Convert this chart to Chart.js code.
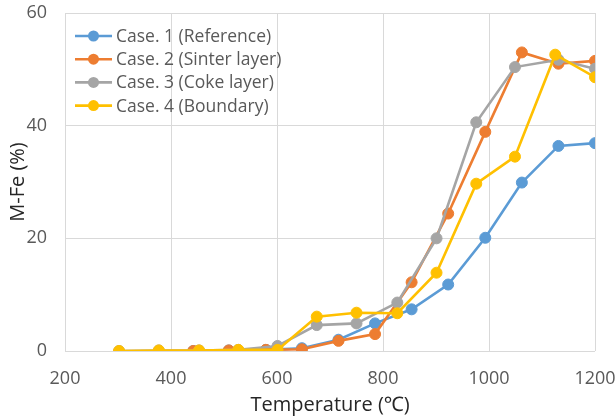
<!DOCTYPE html>
<html>
<head>
<meta charset="utf-8">
<script src="https://cdn.jsdelivr.net/npm/chart.js@4"></script>
<style>
  html, body { margin: 0; padding: 0; background: #ffffff; }
  #wrap { width: 615px; height: 417px; }
</style>
</head>
<body>
<div id="wrap"><canvas id="c" width="615" height="417"></canvas></div>
<script>
// ---- data ----
const seriesNames = ["Case. 1 (Reference)", "Case. 2 (Sinter layer)", "Case. 3 (Coke layer)", "Case. 4 (Boundary)"];
const case1Temp = [442, 509, 579, 647, 716, 785, 854, 923, 993, 1062, 1131, 1200];
const case1MFe  = [0.0, 0.1, 0.2, 0.5, 2.0, 4.9, 7.4, 11.8, 20.1, 29.9, 36.4, 36.9];
const case2Temp = [442, 509, 579, 647, 716, 785, 854, 923, 993, 1062, 1131, 1200];
const case2MFe  = [0.0, 0.1, 0.2, 0.3, 1.8, 3.0, 12.2, 24.4, 38.9, 53.0, 51.0, 51.5];
const case3Temp = [302, 377, 453, 527, 601, 675, 750, 827, 901, 976, 1049, 1131, 1200];
const case3MFe  = [0.0, 0.1, 0.1, 0.2, 0.9, 4.6, 4.9, 8.6, 20.0, 40.6, 50.4, 51.7, 50.1];
const case4Temp = [302, 377, 453, 527, 601, 675, 750, 827, 901, 976, 1049, 1125, 1200];
const case4MFe  = [0.0, 0.1, 0.1, 0.2, 0.2, 6.1, 6.8, 6.7, 13.9, 29.7, 34.5, 52.6, 48.6];
const xTicks = [200, 400, 600, 800, 1000, 1200];
const yTicks = [0, 20, 40, 60];
const xTitle = "Temperature (℃)";
const yTitle = "M-Fe (%)";

const colors = ["#5B9BD5", "#ED7D31", "#A5A5A5", "#FFC000"];
const temps = [case1Temp, case2Temp, case3Temp, case4Temp];
const vals = [case1MFe, case2MFe, case3MFe, case4MFe];

const FONT = '"Open Sans", "Noto Sans", sans-serif';

const datasets = seriesNames.map((name, i) => ({
  label: name,
  data: temps[i].map((t, k) => ({ x: t, y: vals[i][k] })),
  borderColor: colors[i],
  backgroundColor: colors[i],
  pointBackgroundColor: colors[i],
  pointBorderColor: colors[i],
  pointRadius: 5.5,
  pointBorderWidth: 1,
  borderWidth: 2.6,
  tension: 0,
  order: 3 - i  // later series drawn on top, like the reference
}));

const inLegend = {
  id: 'inLegend',
  afterDraw(chart) {
    const ctx = chart.ctx;
    const area = chart.chartArea;
    const x0 = area.left + 10, lineLen = 37, y0 = area.top + 23, dy = 23.2;
    chart.data.datasets.forEach((ds, i) => {
      const y = y0 + i * dy;
      ctx.save();
      ctx.strokeStyle = ds.borderColor;
      ctx.lineWidth = 2.6;
      ctx.beginPath();
      ctx.moveTo(x0, y);
      ctx.lineTo(x0 + lineLen, y);
      ctx.stroke();
      ctx.fillStyle = ds.backgroundColor;
      ctx.beginPath();
      ctx.arc(x0 + lineLen / 2, y, 5.5, 0, Math.PI * 2);
      ctx.fill();
      ctx.fillStyle = '#595959';
      ctx.font = '17.5px ' + FONT;
      ctx.textBaseline = 'middle';
      ctx.textAlign = 'left';
      ctx.fillText(ds.label, x0 + lineLen + 4, y + 1);
      ctx.restore();
    });
  }
};

new Chart(document.getElementById('c'), {
  type: 'line',
  data: { datasets },
  plugins: [inLegend],
  options: {
    responsive: false,
    animation: false,
    layout: { padding: { top: 13, right: 20, left: 0, bottom: 0 } },
    plugins: {
      legend: { display: false },
      tooltip: { enabled: false }
    },
    scales: {
      x: {
        type: 'linear',
        min: xTicks[0],
        max: xTicks[xTicks.length - 1],
        afterBuildTicks(scale) { scale.ticks = xTicks.map(v => ({ value: v })); },
        afterFit(scale) { scale.height = 66; scale.paddingLeft = 0; scale.paddingRight = 0; },
        grid: { color: '#D9D9D9', lineWidth: 1, drawTicks: false },
        border: { display: false },
        ticks: { color: '#595959', font: { family: FONT, size: 18 }, padding: 17, maxRotation: 0,
                 callback: v => String(v) },
        title: { display: true, text: xTitle, color: '#262626', font: { family: FONT, size: 20 }, padding: { top: 3, bottom: 0 } }
      },
      y: {
        type: 'linear',
        min: yTicks[0],
        max: yTicks[yTicks.length - 1],
        afterBuildTicks(scale) { scale.ticks = yTicks.map(v => ({ value: v })); },
        afterFit(scale) { scale.width = 65; scale.paddingTop = 0; scale.paddingBottom = 0; },
        grid: { color: '#D9D9D9', lineWidth: 1, drawTicks: false },
        border: { display: false },
        ticks: { color: '#595959', font: { family: FONT, size: 18 }, padding: 18,
                 callback: v => String(v) },
        title: { display: true, text: yTitle, color: '#262626', font: { family: FONT, size: 20 }, padding: { top: 6, bottom: 0 } }
      }
    }
  }
});
</script>
</body>
</html>
